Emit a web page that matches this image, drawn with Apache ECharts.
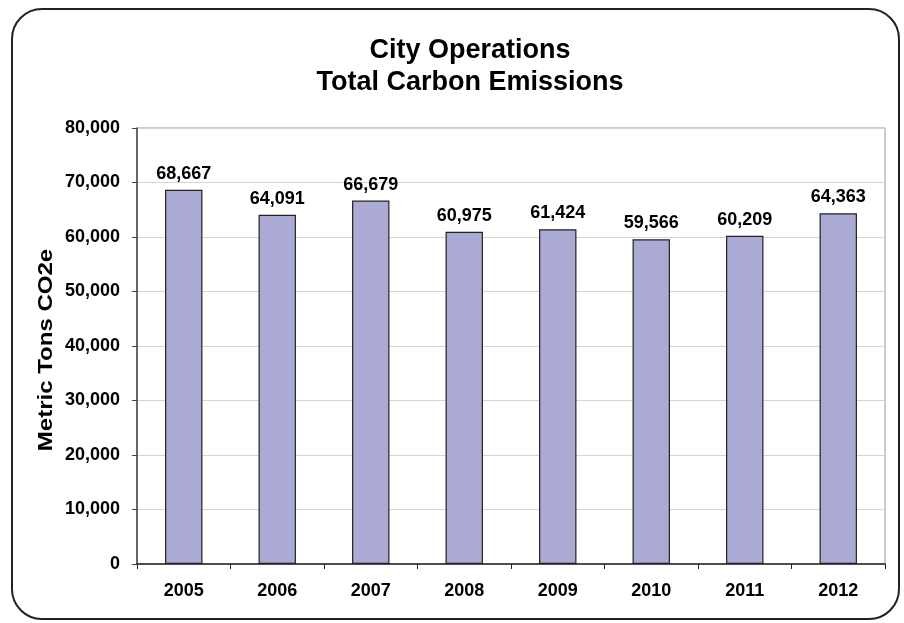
<!DOCTYPE html>
<html>
<head>
<meta charset="utf-8">
<script src="https://cdn.jsdelivr.net/npm/echarts@6/dist/echarts.min.js"></script>
<style>
html,body{margin:0;padding:0;background:#fff;}
#chart{width:904px;height:623px;}
</style>
</head>
<body>
<div id="chart"></div>
<script>
var years = ['2005','2006','2007','2008','2009','2010','2011','2012'];
var emissions = [68667, 64091, 66679, 60975, 61424, 59566, 60209, 64363];
var titleLines = ['City Operations', 'Total Carbon Emissions'];
var yAxisName = 'Metric Tons CO2e';

var chart = echarts.init(document.getElementById('chart'));
var font = 'Liberation Sans, Arial, sans-serif';
chart.setOption({
  animation: false,
  backgroundColor: '#fff',
  title: {
    text: titleLines.join('\n'),
    left: 465,
    textAlign: 'center',
    top: 30,
    textStyle: { fontFamily: font, fontSize: 27, fontWeight: 'bold', color: '#000', lineHeight: 32 }
  },
  graphic: [{
    type: 'rect',
    shape: { x: 12, y: 9, width: 887, height: 610, r: 30 },
    style: { fill: 'none', stroke: '#222', lineWidth: 2 },
    z: 100
  }, {
    type: 'text',
    x: 46, y: 350,
    rotation: Math.PI / 2,
    scaleX: 1.2,
    style: {
      text: yAxisName, fontFamily: font, fontSize: 20, fontWeight: 'bold',
      fill: '#000', align: 'center', verticalAlign: 'middle'
    }
  }],
  grid: {
    left: 137, right: 19, top: 128, bottom: 59,
    show: true, borderColor: '#999', borderWidth: 1, backgroundColor: 'transparent'
  },
  xAxis: {
    type: 'category',
    data: years,
    axisLine: { lineStyle: { color: '#222', width: 1.5 } },
    axisTick: { show: true, length: 5, lineStyle: { color: '#222' } },
    axisLabel: { margin: 18, fontFamily: font, fontSize: 18, fontWeight: 'bold', color: '#000' }
  },
  yAxis: {
    type: 'value',
    min: 0, max: 80000, interval: 10000,
    axisLine: { show: true, lineStyle: { color: '#444', width: 1.5 } },
    axisTick: { show: true, length: 5, lineStyle: { color: '#444' } },
    splitLine: { lineStyle: { color: '#d4d4d4', width: 1 } },
    axisLabel: {
      margin: 17, fontFamily: font, fontSize: 18, fontWeight: 'bold', color: '#000',
      formatter: function (v) { return v.toLocaleString('en-US'); }
    }
  },
  series: [{
    type: 'bar',
    data: emissions,
    barWidth: '40%',
    itemStyle: { color: '#aaaad4', borderColor: '#222', borderWidth: 1.2 },
    label: {
      show: true, position: 'top', distance: 7,
      fontFamily: font, fontSize: 18, fontWeight: 'bold', color: '#000',
      formatter: function (p) { return p.value.toLocaleString('en-US'); }
    }
  }]
});
</script>
</body>
</html>
